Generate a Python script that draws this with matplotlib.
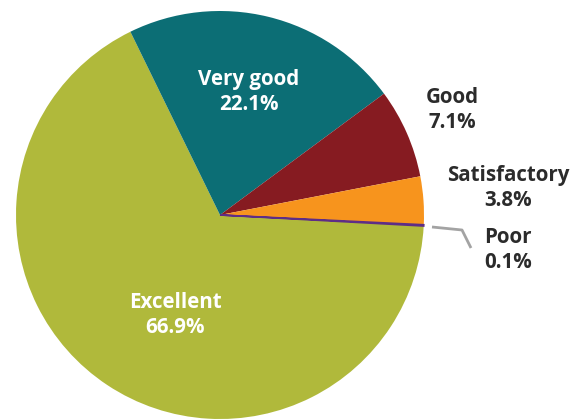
import matplotlib
matplotlib.use("Agg")
import matplotlib.pyplot as plt

# ratings share
labels = ["Excellent", "Very good", "Good", "Satisfactory", "Poor"]
values = [66.9, 22.1, 7.1, 3.8, 0.1]
colors = ["#B0B93B", "#0C6E75", "#861B21", "#F7941D", "#5E2D86"]

# label positions in pixel coords (x, y from top) and text colour
label_pos = [(175, 315), (249, 92), (452, 110), (508, 188), (508, 250)]
label_col = ["white", "white", "#2B2B2B", "#2B2B2B", "#2B2B2B"]

W, H = 579, 419
fig = plt.figure(figsize=(W / 100, H / 100), dpi=100)
ax = fig.add_axes([0, 0, 1, 1])

cx, cy, r = 220, H - 215, 204
wedges, _ = ax.pie(values, colors=colors, startangle=-3.1, counterclock=False,
                   center=(cx, cy), radius=r, wedgeprops=dict(linewidth=0))
# make the tiny slice visible like in the original
wedges[-1].set_edgecolor(colors[-1])
wedges[-1].set_linewidth(1.2)

for lab, v, (x, y), c in zip(labels, values, label_pos, label_col):
    ax.text(x, H - y, f"{lab}\n{v}%", ha="center", va="center", color=c,
            fontsize=14.8, fontweight="bold", family="Open Sans", linespacing=1.25)

# leader line for the tiny slice
ax.plot([432, 462, 471], [H - 227, H - 230, H - 248], color="#A3A3A3", lw=2,
        solid_capstyle="butt")

ax.set_xlim(0, W)
ax.set_ylim(0, H)
ax.set_aspect("equal")
ax.axis("off")
fig.savefig("out.png", dpi=100)
